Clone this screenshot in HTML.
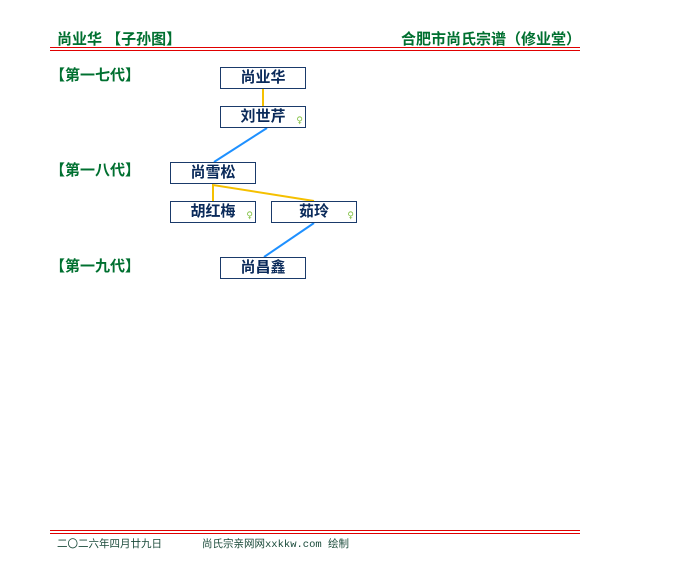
<!DOCTYPE html>
<html><head><meta charset="utf-8"><style>
body{margin:0;width:680px;height:580px;background:#fff;position:relative;font-family:"Liberation Sans","Noto Sans CJK SC",sans-serif;overflow:hidden}
.a{position:absolute;white-space:nowrap}
.h{color:#007030;font-weight:bold;font-size:15px}
.box{position:absolute;width:84px;height:20px;border:1px solid #1a3a6a;background:#fff;color:#0a2a5a;font-weight:bold;font-size:15px;text-align:center;line-height:20px}
.f{position:absolute;right:2px;bottom:1px;font-size:9px;color:#7fbf3f;line-height:9px;font-weight:normal;font-family:"DejaVu Sans",sans-serif}
.r{position:absolute;left:50px;width:530px;height:1px;background:#e00000}
</style></head><body>
<div class="a h" style="left:57px;top:28px">尚业华 【子孙图】</div>
<div class="a h" style="left:401px;top:28px">合肥市尚氏宗谱（修业堂）</div>
<div class="r" style="top:47px"></div><div class="r" style="top:50px"></div>
<div class="a h" style="left:50px;top:64px">【第一七代】</div>
<div class="a h" style="left:50px;top:159px">【第一八代】</div>
<div class="a h" style="left:50px;top:255px">【第一九代】</div>
<svg class="a" style="left:0;top:0" width="680" height="580">
<line x1="263" y1="89" x2="263" y2="106" stroke="#f5c000" stroke-width="2"/>
<line x1="267" y1="128" x2="214" y2="162" stroke="#1e90ff" stroke-width="2"/>
<polyline points="213,201 213,185 314,201" fill="none" stroke="#f5c000" stroke-width="2"/>
<line x1="314" y1="223" x2="264" y2="257" stroke="#1e90ff" stroke-width="2"/>
</svg>
<div class="box" style="left:220px;top:67px">尚业华</div>
<div class="box" style="left:220px;top:106px">刘世芹<span class="f">♀</span></div>
<div class="box" style="left:170px;top:162px">尚雪松</div>
<div class="box" style="left:170px;top:201px">胡红梅<span class="f">♀</span></div>
<div class="box" style="left:271px;top:201px">茹玲<span class="f">♀</span></div>
<div class="box" style="left:220px;top:257px">尚昌鑫</div>
<div class="r" style="top:530px"></div><div class="r" style="top:533px"></div>
<div class="a" style="left:57px;top:536px;font-size:10.5px;color:#1a4a3a;font-family:'Liberation Mono','Noto Sans CJK SC',monospace">二〇二六年四月廿九日</div>
<div class="a" style="left:202px;top:536px;font-size:10.5px;color:#1a4a3a;font-family:'Liberation Mono','Noto Sans CJK SC',monospace">尚氏宗亲网网xxkkw.com 绘制</div>
</body></html>
